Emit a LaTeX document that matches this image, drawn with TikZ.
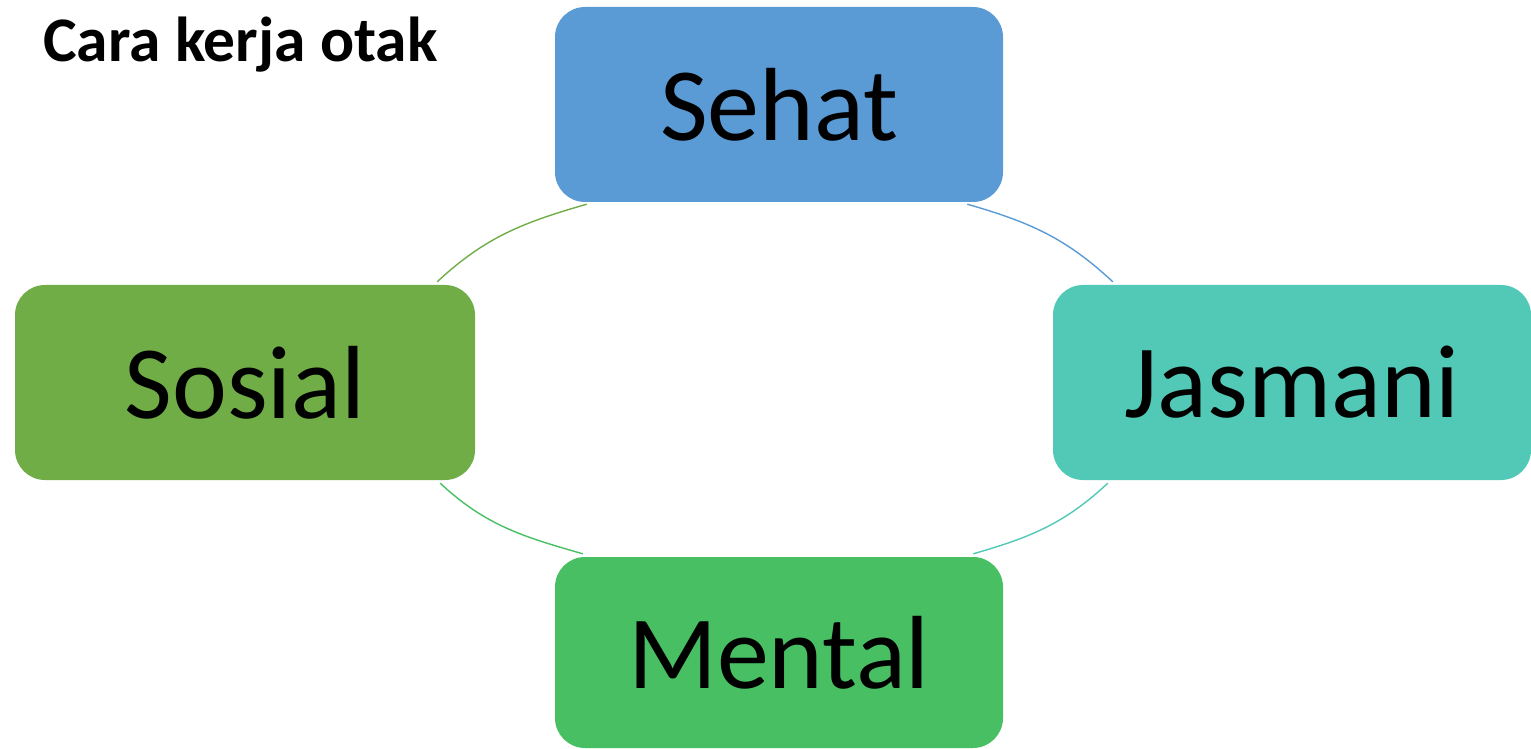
\documentclass[tikz,border=0pt]{standalone}
\usepackage{fontspec}
\setmainfont{Carlito}
\usetikzlibrary{calc}
\definecolor{cblue}{HTML}{5B9BD5}
\definecolor{cgreen}{HTML}{70AD47}
\definecolor{cteal}{HTML}{52C9B6}
\definecolor{cmint}{HTML}{48BF63}
\begin{document}
\begin{tikzpicture}[x=1pt,y=1pt,
  box/.style={rectangle, rounded corners=30pt, inner sep=0pt, minimum height=195pt,
    font=\fontsize{104}{110}\selectfont, text=black},
  arcline/.style={line width=1.4pt}]
\useasboundingbox (0,0) rectangle (1531,748);
\node[anchor=base west, inner sep=0pt, font=\fontsize{63.5}{70}\selectfont\bfseries] (title) at (43,686) {Cara kerja otak};
\node[box, fill=cblue, minimum width=448pt] (sehat) at (779,643.5) {Sehat};
\node[box, fill=cgreen, minimum width=460pt] (sosial) at (245,365.5) {Sosial};
\node[box, fill=cteal, minimum width=478pt] (jasmani) at (1292,365.5) {Jasmani};
\node[box, fill=cmint, minimum width=448pt, minimum height=191pt] (mental) at (779,95.5) {Mental};
\coordinate (a1s) at ($(sosial.north east)+(-38,3)$);
\coordinate (a1e) at ($(sehat.south west)+(32,-2)$);
\coordinate (a2s) at ($(sehat.south east)+(-36,-2)$);
\coordinate (a2e) at ($(jasmani.north west)+(60,3)$);
\coordinate (a3s) at ($(jasmani.south west)+(55,-3)$);
\coordinate (a3e) at ($(mental.north east)+(-30,3)$);
\coordinate (a4s) at ($(mental.north west)+(28,3)$);
\coordinate (a4e) at ($(sosial.south east)+(-35,-3)$);
\draw[arcline, cgreen] (a1s) to[out=43, in=196] (a1e);
\draw[arcline, cblue] (a2s) to[out=-16, in=137] (a2e);
\draw[arcline, cteal] (a3s) to[out=223, in=16] (a3e);
\draw[arcline, cmint] (a4s) to[out=164, in=-43] (a4e);
\end{tikzpicture}
\end{document}
